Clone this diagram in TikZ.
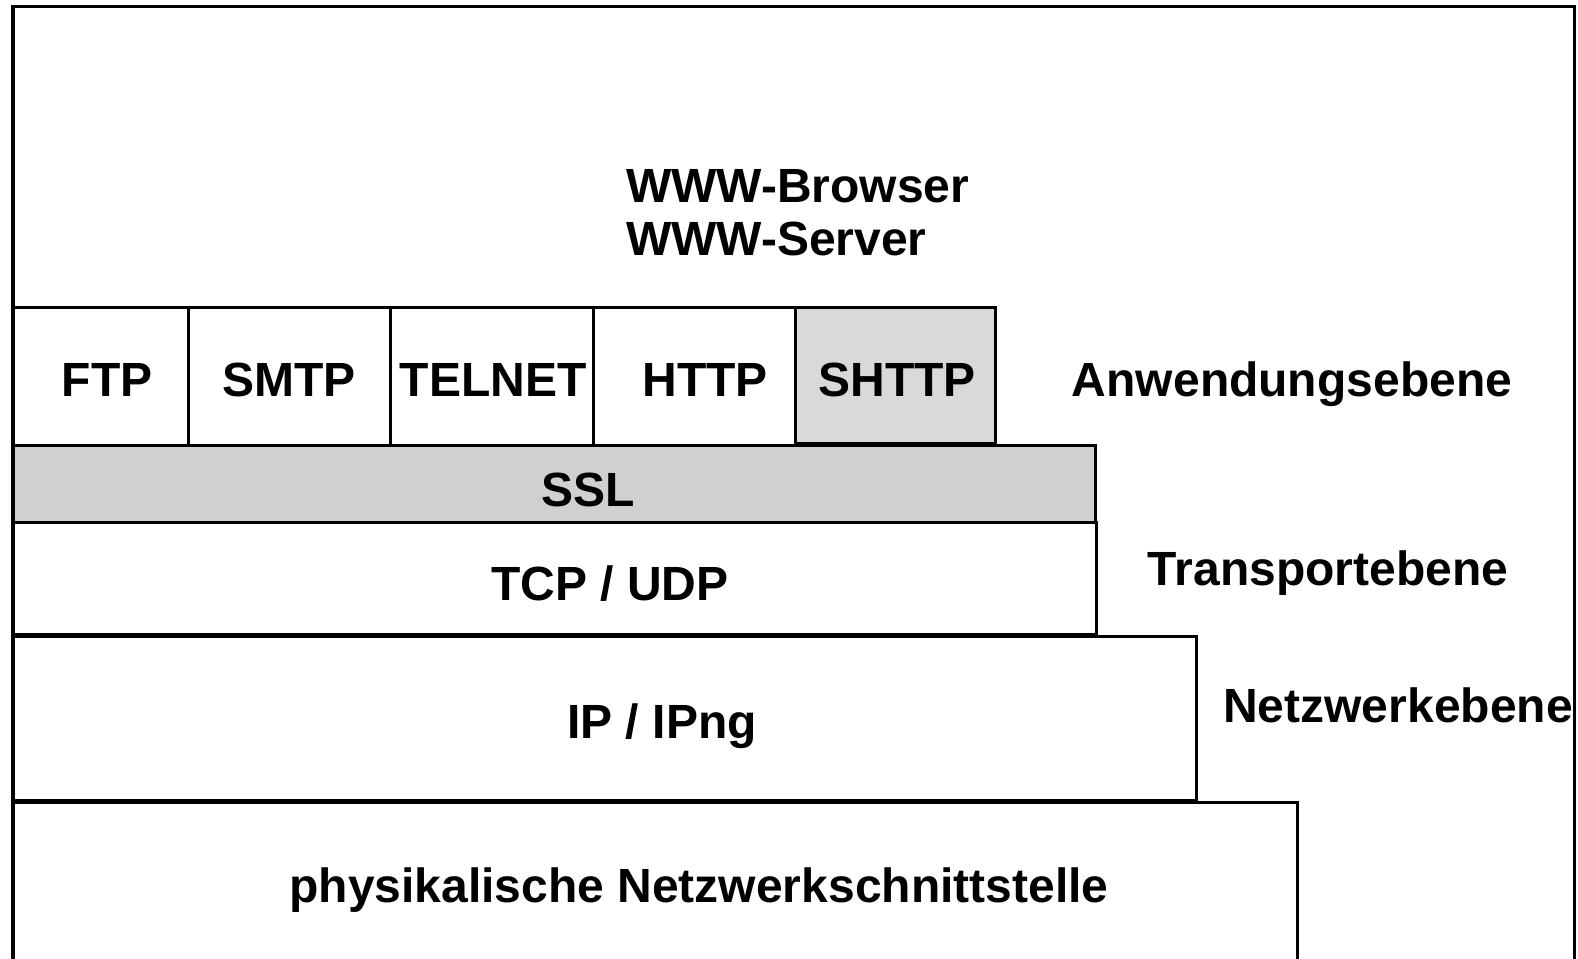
\documentclass[tikz,border=0pt]{standalone}
\usepackage{fontspec}
\setmainfont{Liberation Sans}
\definecolor{shttpgray}{RGB}{217,217,217}
\definecolor{sslgray}{RGB}{208,208,208}
\begin{document}
\begin{tikzpicture}[x=1pt,y=-1pt,
  box/.style={draw=black, line width=2.5pt, rectangle, inner sep=0pt, anchor=north west},
  lbl/.style={font=\fontsize{48}{56}\selectfont\bfseries, inner sep=0pt, anchor=base}]
\useasboundingbox (0,0) rectangle (1578,958);
\clip (0,0) rectangle (1578,958);
\fill[white] (0,0) rectangle (1578,958);
% outer frame
\node[box, minimum width=1561pt, minimum height=990pt, line width=3pt] (frame) at (12,5) {};
% application layer cells
\node[box, minimum width=175pt, minimum height=138pt] (ftp) at (12,306) {};
\node[box, minimum width=202pt, minimum height=138pt] (smtp) at (187,306) {};
\node[box, minimum width=203pt, minimum height=138pt] (telnet) at (389,306) {};
\node[box, minimum width=202pt, minimum height=138pt] (http) at (592,306) {};
\node[box, minimum width=200pt, minimum height=136pt, fill=shttpgray] (shttp) at (794,306) {};
% lower layers
\node[box, minimum width=1082pt, minimum height=77pt, fill=sslgray] (ssl) at (12,444) {};
\node[box, minimum width=1083pt, minimum height=112pt] (tcp) at (12,521) {};
\node[box, minimum width=1183pt, minimum height=164pt] (ip) at (12,635) {};
\node[box, minimum width=1284pt, minimum height=200pt] (phys) at (12,801) {};
% redraw frame left edge on top
\draw[line width=3pt] (frame.north west) -- (frame.south west);
% labels
\node[lbl, anchor=base west] (browser) at (626,202) {WWW-Browser};
\node[lbl, anchor=base west] (server) at (626,255) {WWW-Server};
\node[lbl] (tftp) at (107,396) {FTP};
\node[lbl] (tsmtp) at (289,396) {SMTP};
\node[lbl] (ttelnet) at (493,396) {TELNET};
\node[lbl] (thttp) at (705,396) {HTTP};
\node[lbl] (tshttp) at (897,396) {SHTTP};
\node[lbl] (anw) at (1292,396) {Anwendungsebene};
\node[lbl] (tssl) at (588,506) {SSL};
\node[lbl] (ttcp) at (610,600) {TCP / UDP};
\node[lbl] (trans) at (1328,585) {Transportebene};
\node[lbl] (tip) at (662,738) {IP / IPng};
\node[lbl] (netz) at (1398,722) {Netzwerkebene};
\node[lbl] (tphys) at (699,902) {physikalische Netzwerkschnittstelle};
\end{tikzpicture}
\end{document}
